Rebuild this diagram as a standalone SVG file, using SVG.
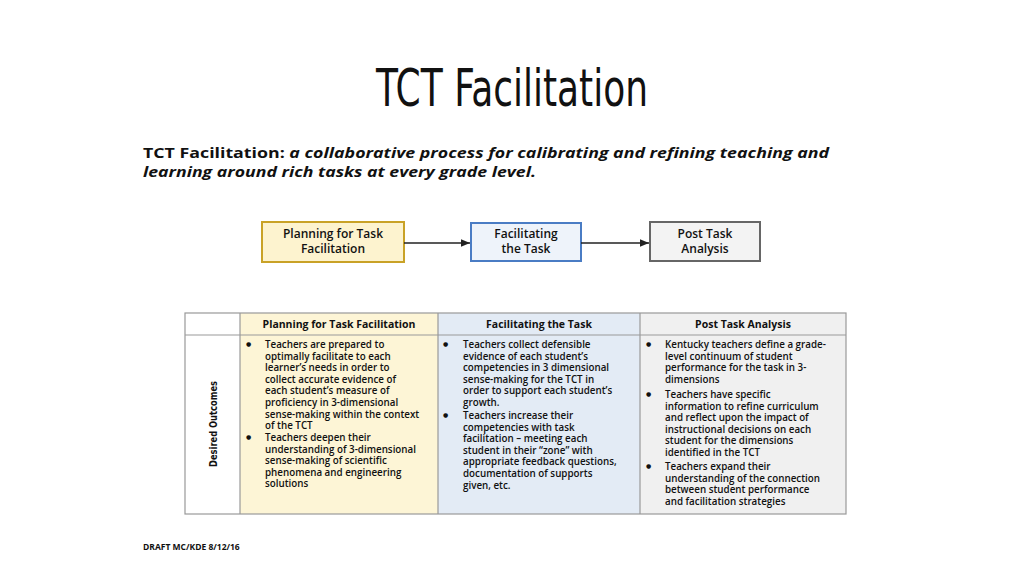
<svg xmlns="http://www.w3.org/2000/svg" width="1024" height="576" viewBox="0 0 1024 576">
<style>
.t{font-family:"Open Sans","Liberation Sans",sans-serif;font-size:9.8px;font-weight:600;fill:#111}
.d{font-family:"DejaVu Sans",sans-serif;font-size:6px;fill:#111}
.h{font-family:"Open Sans","Liberation Sans",sans-serif;font-size:10.5px;font-weight:700;fill:#111;text-anchor:middle}
.b{font-family:"Open Sans","Liberation Sans",sans-serif;font-size:12px;font-weight:600;fill:#111;text-anchor:middle}
.g{stroke:#999;stroke-width:1.2;fill:none}
</style>
<defs><marker id="a" markerWidth="8" markerHeight="8" refX="7" refY="4" orient="auto"><path d="M0,1 L7,4 L0,7z" fill="#222"/></marker></defs>
<rect width="1024" height="576" fill="#fff"/>
<text x="512" y="106" text-anchor="middle" font-family="DejaVu Sans" font-stretch="condensed" font-size="52" textLength="272" lengthAdjust="spacingAndGlyphs" fill="#111">TCT Facilitation</text>
<text x="143" y="158" font-family="Open Sans,Liberation Sans,sans-serif" font-size="15" font-weight="700" fill="#111" textLength="686" lengthAdjust="spacingAndGlyphs">TCT Facilitation: <tspan font-style="italic">a collaborative process for calibrating and refining teaching and</tspan></text>
<text x="143" y="177" font-family="Open Sans,Liberation Sans,sans-serif" font-size="15" font-weight="700" font-style="italic" fill="#111" textLength="393" lengthAdjust="spacingAndGlyphs">learning around rich tasks at every grade level.</text>
<g id="n1"><rect x="262" y="222" width="142" height="40" fill="#fdf3cf" stroke="#c9a227" stroke-width="2"/><text class="b" x="333" y="238">Planning for Task</text><text class="b" x="333" y="253">Facilitation</text></g>
<g id="n2"><rect x="471" y="223" width="110" height="38" fill="#eef3fa" stroke="#4a7cc4" stroke-width="2"/><text class="b" x="526" y="238">Facilitating</text><text class="b" x="526" y="253">the Task</text></g>
<g id="n3"><rect x="650" y="222" width="110" height="39" fill="#f3f3f3" stroke="#666" stroke-width="2"/><text class="b" x="705" y="238">Post Task</text><text class="b" x="705" y="253">Analysis</text></g>
<g id="connectors" stroke="#222" stroke-width="1.3"><line x1="404" y1="243" x2="470" y2="243" marker-end="url(#a)"/><line x1="581" y1="243" x2="649" y2="243" marker-end="url(#a)"/></g>
<g id="table">
<rect x="240" y="313" width="198" height="201" fill="#fdf5d6"/>
<rect x="438" y="313" width="202" height="201" fill="#e3ebf5"/>
<rect x="640" y="313" width="206" height="201" fill="#f0f0f0"/>
<rect x="185" y="313" width="661" height="201" class="g"/>
<line x1="185" y1="335" x2="846" y2="335" class="g"/>
<line x1="240" y1="313" x2="240" y2="514" class="g"/>
<line x1="438" y1="313" x2="438" y2="514" class="g"/>
<line x1="640" y1="313" x2="640" y2="514" class="g"/>
<text class="h" x="339" y="328">Planning for Task Facilitation</text>
<text class="h" x="539" y="328">Facilitating the Task</text>
<text class="h" x="743" y="328">Post Task Analysis</text>
<text transform="translate(217,424) rotate(-90)" text-anchor="middle" font-family="DejaVu Sans" font-size="11" font-weight="700" fill="#111" textLength="86" lengthAdjust="spacingAndGlyphs">Desired Outcomes</text>
<g class="d">
<text x="246" y="346">●</text><text x="246" y="439">●</text>
<text x="443" y="346">●</text><text x="443" y="417">●</text>
<text x="646" y="346">●</text><text x="646" y="396">●</text><text x="646" y="468">●</text>
</g>
<g class="t">
<text x="265" y="348">Teachers are prepared to</text>
<text x="265" y="359.6">optimally facilitate to each</text>
<text x="265" y="371.2">learner’s needs in order to</text>
<text x="265" y="382.8">collect accurate evidence of</text>
<text x="265" y="394.4">each student’s measure of</text>
<text x="265" y="406">proficiency in 3-dimensional</text>
<text x="265" y="417.6">sense-making within the context</text>
<text x="265" y="429.2">of the TCT</text>
<text x="265" y="441">Teachers deepen their</text>
<text x="265" y="452.6">understanding of 3-dimensional</text>
<text x="265" y="464.2">sense-making of scientific</text>
<text x="265" y="475.8">phenomena and engineering</text>
<text x="265" y="487.4">solutions</text>
<text x="463" y="348">Teachers collect defensible</text>
<text x="463" y="359.6">evidence of each student’s</text>
<text x="463" y="371.2">competencies in 3 dimensional</text>
<text x="463" y="382.8">sense-making for the TCT in</text>
<text x="463" y="394.4">order to support each student’s</text>
<text x="463" y="406">growth.</text>
<text x="463" y="419">Teachers increase their</text>
<text x="463" y="430.6">competencies with task</text>
<text x="463" y="442.2">facilitation – meeting each</text>
<text x="463" y="453.8">student in their “zone” with</text>
<text x="463" y="465.4">appropriate feedback questions,</text>
<text x="463" y="477">documentation of supports</text>
<text x="463" y="488.6">given, etc.</text>
<text x="665" y="348">Kentucky teachers define a grade-</text>
<text x="665" y="359.6">level continuum of student</text>
<text x="665" y="371.2">performance for the task in 3-</text>
<text x="665" y="382.8">dimensions</text>
<text x="665" y="398">Teachers have specific</text>
<text x="665" y="409.6">information to refine curriculum</text>
<text x="665" y="421.2">and reflect upon the impact of</text>
<text x="665" y="432.8">instructional decisions on each</text>
<text x="665" y="444.4">student for the dimensions</text>
<text x="665" y="456">identified in the TCT</text>
<text x="665" y="470">Teachers expand their</text>
<text x="665" y="481.6">understanding of the connection</text>
<text x="665" y="493.2">between student performance</text>
<text x="665" y="504.8">and facilitation strategies</text>
</g>
</g>
<text x="143" y="550" font-family="Open Sans,Liberation Sans,sans-serif" font-size="8.5" font-weight="700" fill="#111">DRAFT MC/KDE 8/12/16</text>
</svg>
